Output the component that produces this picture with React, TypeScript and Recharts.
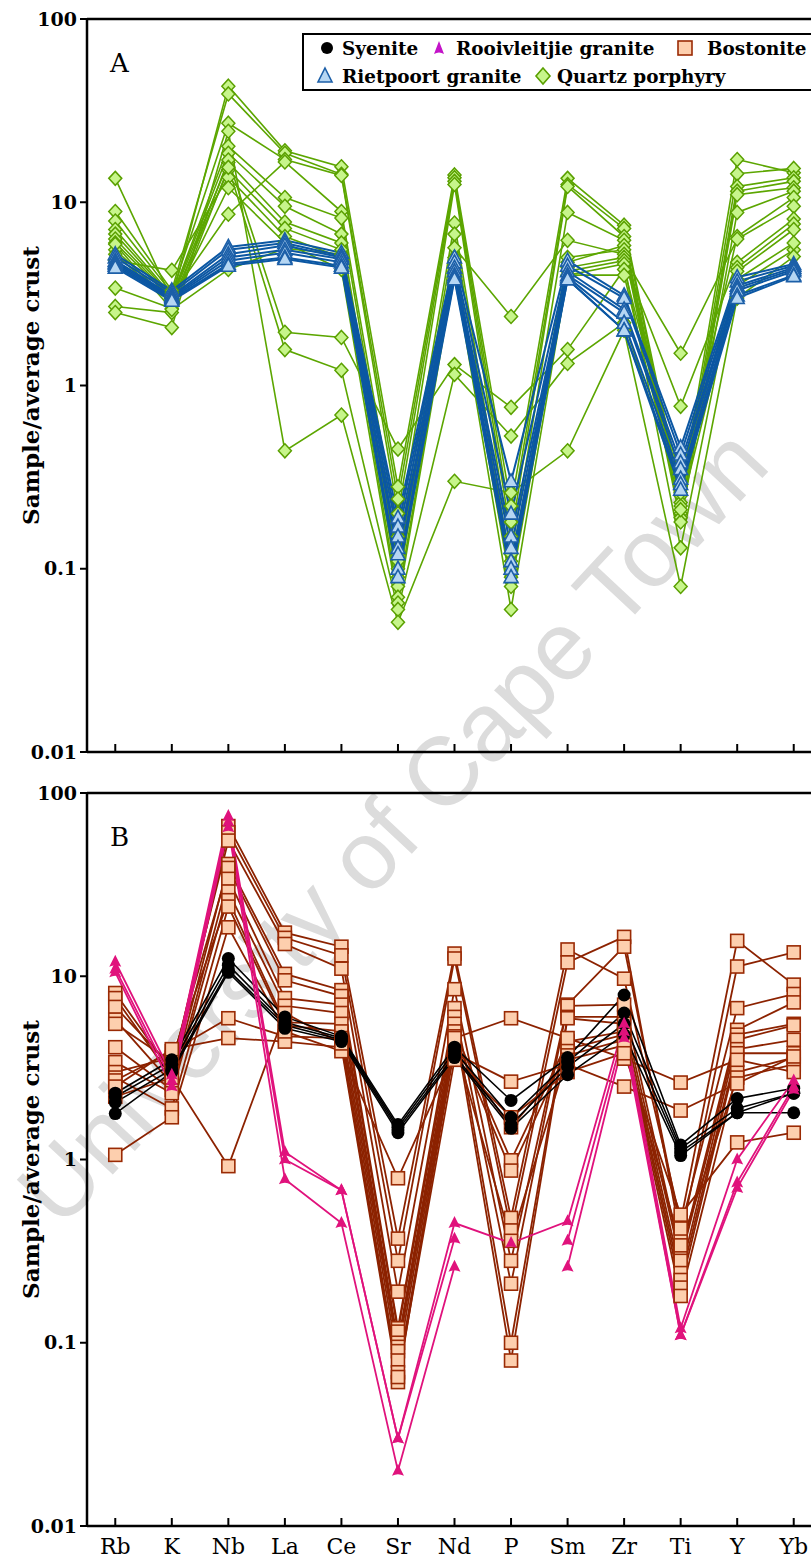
import React from "react";
import { LineChart, Line, XAxis, YAxis, ReferenceLine, Legend, Label } from "recharts";

// element order on the x axis
const elements = ["Rb", "K", "Nb", "La", "Ce", "Sr", "Nd", "P", "Sm", "Zr", "Ti", "Y", "Yb"];
const yTicks = [0.01, 0.1, 1, 10, 100];

// panel A
const quartzPorphyry = [
  [13.5, 2.95, 43, 19.1, 15.6, 0.28, 14.1, 0.22, 13.5, 7.5, 0.25, 17.1, 14.5],
  [8.9, 3.3, 39, 18.5, 14.2, 0.24, 13.6, 0.18, 12.5, 7.2, 0.23, 14.3, 15.3],
  [7.9, 3.2, 27, 17.1, 14.0, 0.2, 13.0, 0.15, 12.2, 6.5, 0.22, 12.2, 13.6],
  [7.1, 3.1, 8.6, 16.6, 8.9, 0.15, 12.5, 0.12, 8.8, 6.2, 0.2, 11.5, 13.0],
  [6.7, 3.05, 20.2, 10.6, 8.2, 0.12, 7.7, 0.1, 4.7, 5.8, 0.19, 11.0, 12.0],
  [6.3, 3.0, 18.5, 9.5, 6.7, 0.1, 6.7, 0.09, 5.0, 5.5, 0.18, 8.8, 11.5],
  [6.0, 2.95, 16.5, 7.8, 6.0, 0.09, 5.65, 2.38, 6.2, 5.2, 0.3, 6.5, 10.6],
  [5.5, 2.85, 15.0, 7.2, 5.5, 0.08, 5.0, 0.085, 4.4, 5.0, 1.5, 6.3, 9.5],
  [4.8, 4.25, 13.7, 6.5, 5.0, 0.07, 4.5, 0.08, 4.2, 4.8, 0.77, 4.7, 8.1],
  [5.2, 2.8, 12.0, 6.0, 4.3, 0.065, 4.2, 0.06, 4.0, 4.6, 0.13, 4.4, 7.6],
  [3.4, 2.63, 17.0, 1.95, 1.83, 0.45, 1.3, 0.76, 1.57, 4.3, 0.28, 4.2, 7.1],
  [2.7, 2.5, 15.5, 1.57, 1.21, 0.06, 1.15, 0.53, 1.32, 2.2, 0.26, 3.5, 5.5],
  [2.5, 2.07, 24.4, 0.44, 0.69, 0.051, 0.3, 0.26, 0.44, 2.0, 0.08, 3.0, 5.05],
  [5.9, 2.6, 4.3, 5.6, 5.2, 0.11, 4.0, 0.11, 4.0, 4.0, 0.21, 3.8, 6.0],
];

const rietpoort = [
  [5.2, 3.3, 5.7, 6.2, 5.3, 0.19, 5.0, 0.3, 4.8, 3.1, 0.46, 3.9, 4.6],
  [5.0, 3.2, 5.5, 6.0, 5.1, 0.17, 4.7, 0.2, 4.5, 3.0, 0.42, 3.7, 4.5],
  [4.8, 3.1, 5.2, 5.8, 5.0, 0.15, 4.4, 0.15, 4.2, 2.6, 0.38, 3.5, 4.4],
  [4.7, 3.05, 5.0, 5.5, 4.9, 0.13, 4.2, 0.13, 4.0, 2.5, 0.35, 3.4, 4.3],
  [4.6, 3.0, 4.8, 5.3, 4.7, 0.12, 4.0, 0.11, 3.9, 2.2, 0.31, 3.3, 4.2],
  [4.5, 2.95, 4.6, 5.0, 4.5, 0.1, 3.9, 0.1, 3.8, 2.0, 0.29, 3.1, 4.0],
  [4.4, 2.9, 4.5, 4.9, 4.4, 0.09, 3.8, 0.09, 3.8, 2.0, 0.27, 3.0, 3.95],
];

// panel B
const bostonite = [
  [8.1, 3.0, 66, 17.3, 14.5, 0.37, 13.3, 0.48, 14.0, 9.7, 0.46, 15.6, 9.0],
  [7.6, 2.8, 61, 16.2, 13.0, 0.28, 12.5, 0.41, 11.9, 16.4, 0.37, 11.3, 13.5],
  [6.8, 3.2, 55, 15.0, 11.0, 0.19, 8.5, 0.28, 7.0, 14.5, 0.42, 6.7, 8.0],
  [5.8, 2.6, 41, 10.3, 8.4, 0.12, 6.7, 0.21, 6.9, 7.0, 0.3, 5.1, 7.2],
  [5.5, 3.4, 39, 9.5, 7.8, 0.115, 6.0, 0.1, 6.0, 6.0, 0.28, 4.8, 5.5],
  [4.1, 2.4, 34, 7.6, 7.0, 0.1, 5.5, 0.08, 5.9, 5.5, 0.24, 4.5, 5.4],
  [3.4, 2.3, 29, 6.9, 6.3, 0.095, 5.0, 0.99, 4.4, 5.0, 0.22, 4.0, 4.5],
  [3.0, 3.6, 26, 5.6, 5.5, 0.09, 4.7, 0.87, 4.0, 4.8, 0.2, 3.8, 3.8],
  [2.8, 1.9, 24, 5.4, 5.0, 0.08, 4.4, 0.36, 3.7, 4.5, 0.18, 3.0, 3.6],
  [2.7, 3.9, 5.9, 4.7, 4.6, 0.069, 4.0, 1.5, 3.5, 4.2, 0.34, 2.8, 3.3],
  [2.5, 4.0, 4.6, 4.4, 4.1, 0.061, 4.6, 5.9, 4.6, 3.55, 2.63, 3.5, 3.0],
  [1.06, 1.7, 18.5, 5.0, 3.9, 0.79, 3.8, 2.66, 3.3, 2.5, 1.85, 2.6, 3.65],
  [2.2, 2.8, 0.92, 6.3, 4.3, 0.065, 3.5, 1.7, 3.0, 3.8, 0.5, 1.24, 1.4],
];

const syenite = [
  [2.3, 3.5, 12.5, 6.0, 4.7, 1.55, 4.1, 2.1, 3.6, 7.9, 1.2, 2.15, 2.45],
  [2.2, 3.3, 11.5, 5.6, 4.6, 1.5, 3.9, 1.7, 3.4, 6.3, 1.15, 1.9, 2.3],
  [2.05, 3.1, 10.8, 5.4, 4.5, 1.45, 3.7, 1.55, 3.2, 5.5, 1.1, 1.8, 2.3],
  [1.78, 3.0, 10.5, 5.2, 4.4, 1.4, 3.6, 1.48, 2.9, 4.8, 1.05, 1.8, 1.8],
];

const rooivleitjie = [
  [12.0, 2.9, 75, 1.1, 0.68, 0.03, 0.45, 0.35, 0.46, 5.5, 0.12, 1.0, 2.7],
  [11.0, 2.7, 70, 1.0, 0.68, 0.03, 0.37, null, 0.36, 5.0, 0.11, 0.75, 2.5],
  [10.5, 2.5, 65, 0.78, 0.45, 0.02, 0.26, null, 0.26, 4.6, 0.11, 0.7, 2.4],
];

type Row = { [k: string]: number | string | null };

function buildRows(groups: { key: string; samples: (number | null)[][] }[]): Row[] {
  return elements.map((el, i) => {
    const row: Row = { x: i, el };
    groups.forEach((g) => g.samples.forEach((s, j) => (row[`${g.key}${j}`] = s[i])));
    return row;
  });
}

const dataA = buildRows([
  { key: "qp", samples: quartzPorphyry },
  { key: "rp", samples: rietpoort },
]);
const dataB = buildRows([
  { key: "bo", samples: bostonite },
  { key: "sy", samples: syenite },
  { key: "ro", samples: rooivleitjie },
]);

const serif = "DejaVu Serif";

const noDot = (props: any) => props.cy == null || !isFinite(props.cy);

const diamondDot = (props: any) => {
  const k = `${props.dataKey}-${props.index}`;
  if (noDot(props)) return <g key={k} />;
  const { cx, cy } = props;
  return (
    <path key={k} d={`M${cx},${cy - 7} L${cx + 6.5},${cy} L${cx},${cy + 7} L${cx - 6.5},${cy} Z`}
      fill="#c7f58b" stroke="#5aa000" strokeWidth={1.5} />
  );
};

const blueTriDot = (props: any) => {
  const k = `${props.dataKey}-${props.index}`;
  if (noDot(props)) return <g key={k} />;
  const { cx, cy } = props;
  return (
    <path key={k} d={`M${cx},${cy - 7.5} L${cx + 7},${cy + 5.5} L${cx - 7},${cy + 5.5} Z`}
      fill="#b5d6f3" stroke="#1c5fa8" strokeWidth={1.6} />
  );
};

const squareDot = (props: any) => {
  const k = `${props.dataKey}-${props.index}`;
  if (noDot(props)) return <g key={k} />;
  const { cx, cy } = props;
  return <rect key={k} x={cx - 6.5} y={cy - 6.5} width={13} height={13} fill="#fdcfae" stroke="#9a2a04" strokeWidth={1.6} />;
};

const circleDot = (props: any) => {
  const k = `${props.dataKey}-${props.index}`;
  if (noDot(props)) return <g key={k} />;
  return <circle key={k} cx={props.cx} cy={props.cy} r={6.5} fill="#000" />;
};

const pinkDot = (props: any) => {
  const k = `${props.dataKey}-${props.index}`;
  if (noDot(props)) return <g key={k} />;
  const { cx, cy } = props;
  return (
    <path key={k} d={`M${cx},${cy - 7} L${cx + 6},${cy + 5} Q${cx},${cy + 2} ${cx - 6},${cy + 5} Z`} fill="#e0127c" />
  );
};

const makeXTick = (showLabel: boolean) => (props: any) => {
  const { x, y, payload } = props;
  return (
    <g>
      <line x1={x} x2={x} y1={y} y2={y - 8} stroke="#000" strokeWidth={2} />
      {showLabel && (
        <text x={x} y={y + 28} textAnchor="middle" fontFamily={serif} fontSize={22} fill="#000">
          {elements[payload.value]}
        </text>
      )}
    </g>
  );
};

const YTitle = (props: any) => {
  const vb = props.viewBox || {};
  const cx = 30;
  const cy = vb.y != null ? vb.y + vb.height / 2 : 385.5;
  return (
    <text x={cx} y={cy} transform={`rotate(-90 ${cx} ${cy})`} textAnchor="middle" dominantBaseline="central"
      fontFamily={serif} fontWeight="bold" fontSize={23} fill="#000">
      Sample/average crust
    </text>
  );
};

const legendItems = [
  { name: "Syenite", sym: "circle", sx: 23, tx: 38, row: 0 },
  { name: "Rooivleitjie granite", sym: "pink", sx: 135, tx: 152, row: 0 },
  { name: "Bostonite", sym: "square", sx: 381, tx: 403, row: 0 },
  { name: "Rietpoort granite", sym: "tri", sx: 21, tx: 38, row: 1 },
  { name: "Quartz porphyry", sym: "diamond", sx: 239, tx: 253, row: 1 },
];

const LegendBox = () => (
  <div style={{ width: 520, height: 58, border: "2px solid #000", boxSizing: "border-box", background: "#fff" }}>
    <svg width={516} height={54} style={{ display: "block" }}>
      {legendItems.map((it) => {
        const cy = it.row === 0 ? 13 : 41;
        const cx = it.sx;
        let sym: React.ReactNode = null;
        if (it.sym === "circle") sym = <circle cx={cx} cy={cy} r={6} fill="#000" />;
        if (it.sym === "pink")
          sym = <path d={`M${cx},${cy - 7} L${cx + 5},${cy + 6} Q${cx},${cy + 3} ${cx - 5},${cy + 6} Z`} fill="#c313c8" />;
        if (it.sym === "square")
          sym = <rect x={cx - 7} y={cy - 7} width={14} height={14} fill="#fdcfae" stroke="#9a2a04" strokeWidth={1.6} />;
        if (it.sym === "tri")
          sym = <path d={`M${cx},${cy - 8} L${cx + 7},${cy + 6} L${cx - 7},${cy + 6} Z`} fill="#b5d6f3" stroke="#1c5fa8" strokeWidth={1.6} />;
        if (it.sym === "diamond")
          sym = <path d={`M${cx},${cy - 8} L${cx + 7},${cy} L${cx},${cy + 8} L${cx - 7},${cy} Z`} fill="#c7f58b" stroke="#5aa000" strokeWidth={1.6} />;
        return (
          <g key={it.name}>
            {sym}
            <text x={it.tx} y={cy} dominantBaseline="central" fontFamily={serif} fontWeight="bold" fontSize={18.4} fill="#000">
              {it.name}
            </text>
          </g>
        );
      })}
    </svg>
  </div>
);

function Panel({ data, tag, showLabels, children, height, xHeight, legend }: any) {
  return (
    <LineChart width={822} height={height} data={data} margin={{ top: 19, right: 0, bottom: 0, left: 0 }}>
      <XAxis dataKey="x" type="number" domain={[-0.5, 12.5]} ticks={elements.map((_, i) => i)} interval={0}
        allowDataOverflow height={xHeight} tickSize={0} tickMargin={0} tickLine={false}
        axisLine={{ stroke: "#000", strokeWidth: 2.5 }} tick={makeXTick(showLabels)} />
      <YAxis scale="log" domain={[0.01, 100]} ticks={yTicks} allowDataOverflow width={87} interval={0}
        tickSize={7} tickMargin={3} tickLine={{ stroke: "#000", strokeWidth: 2 }}
        axisLine={{ stroke: "#000", strokeWidth: 2.5 }} tickFormatter={(v: number) => String(v)}
        tick={{ fill: "#000", fontFamily: serif, fontWeight: 700, fontSize: 19 }}>
        <Label content={YTitle} />
      </YAxis>
      <ReferenceLine y={100} stroke="#000" strokeWidth={2.5} />
      {children}
      <text x={110} y={72} fontFamily={serif} fontSize={26} fill="#000">{tag}</text>
      {legend && (
        <Legend layout="horizontal" verticalAlign="middle" align="center" content={LegendBox}
          wrapperStyle={{ top: 33, left: 302, width: 520, height: 58 }} />
      )}
    </LineChart>
  );
}

export default function App() {
  return (
    <div style={{ position: "absolute", left: 0, top: 0, width: 811, height: 1560, overflow: "hidden", background: "#fff" }}>
      <svg width={811} height={1560} style={{ position: "absolute", left: 0, top: 0 }}>
        <text x={392} y={826} transform="rotate(-47 392 826)" textAnchor="middle" dominantBaseline="central"
          fontFamily="Liberation Sans" fontSize={97} fill="#dcdcdc">
          University of Cape Town
        </text>
      </svg>
      <div style={{ position: "absolute", left: 0, top: 0 }}>
        <Panel data={dataA} tag="A" showLabels={false} height={774} xHeight={22} legend>
          {quartzPorphyry.map((_, j) => (
            <Line key={`qp${j}`} dataKey={`qp${j}`} type="linear" stroke="#5ca600" strokeWidth={1.6}
              dot={diamondDot} activeDot={false} isAnimationActive={false} />
          ))}
          {rietpoort.map((_, j) => (
            <Line key={`rp${j}`} dataKey={`rp${j}`} type="linear" stroke="#0b57a3" strokeWidth={2}
              dot={blueTriDot} activeDot={false} isAnimationActive={false} />
          ))}
        </Panel>
      </div>
      <div style={{ position: "absolute", left: 0, top: 774 }}>
        <Panel data={dataB} tag="B" showLabels height={786} xHeight={34}>
          {bostonite.map((_, j) => (
            <Line key={`bo${j}`} dataKey={`bo${j}`} type="linear" stroke="#8c2200" strokeWidth={1.8}
              dot={squareDot} activeDot={false} isAnimationActive={false} />
          ))}
          {syenite.map((_, j) => (
            <Line key={`sy${j}`} dataKey={`sy${j}`} type="linear" stroke="#000" strokeWidth={1.6}
              dot={circleDot} activeDot={false} isAnimationActive={false} />
          ))}
          {rooivleitjie.map((_, j) => (
            <Line key={`ro${j}`} dataKey={`ro${j}`} type="linear" stroke="#e0127c" strokeWidth={1.8}
              dot={pinkDot} activeDot={false} isAnimationActive={false} />
          ))}
        </Panel>
      </div>
    </div>
  );
}
